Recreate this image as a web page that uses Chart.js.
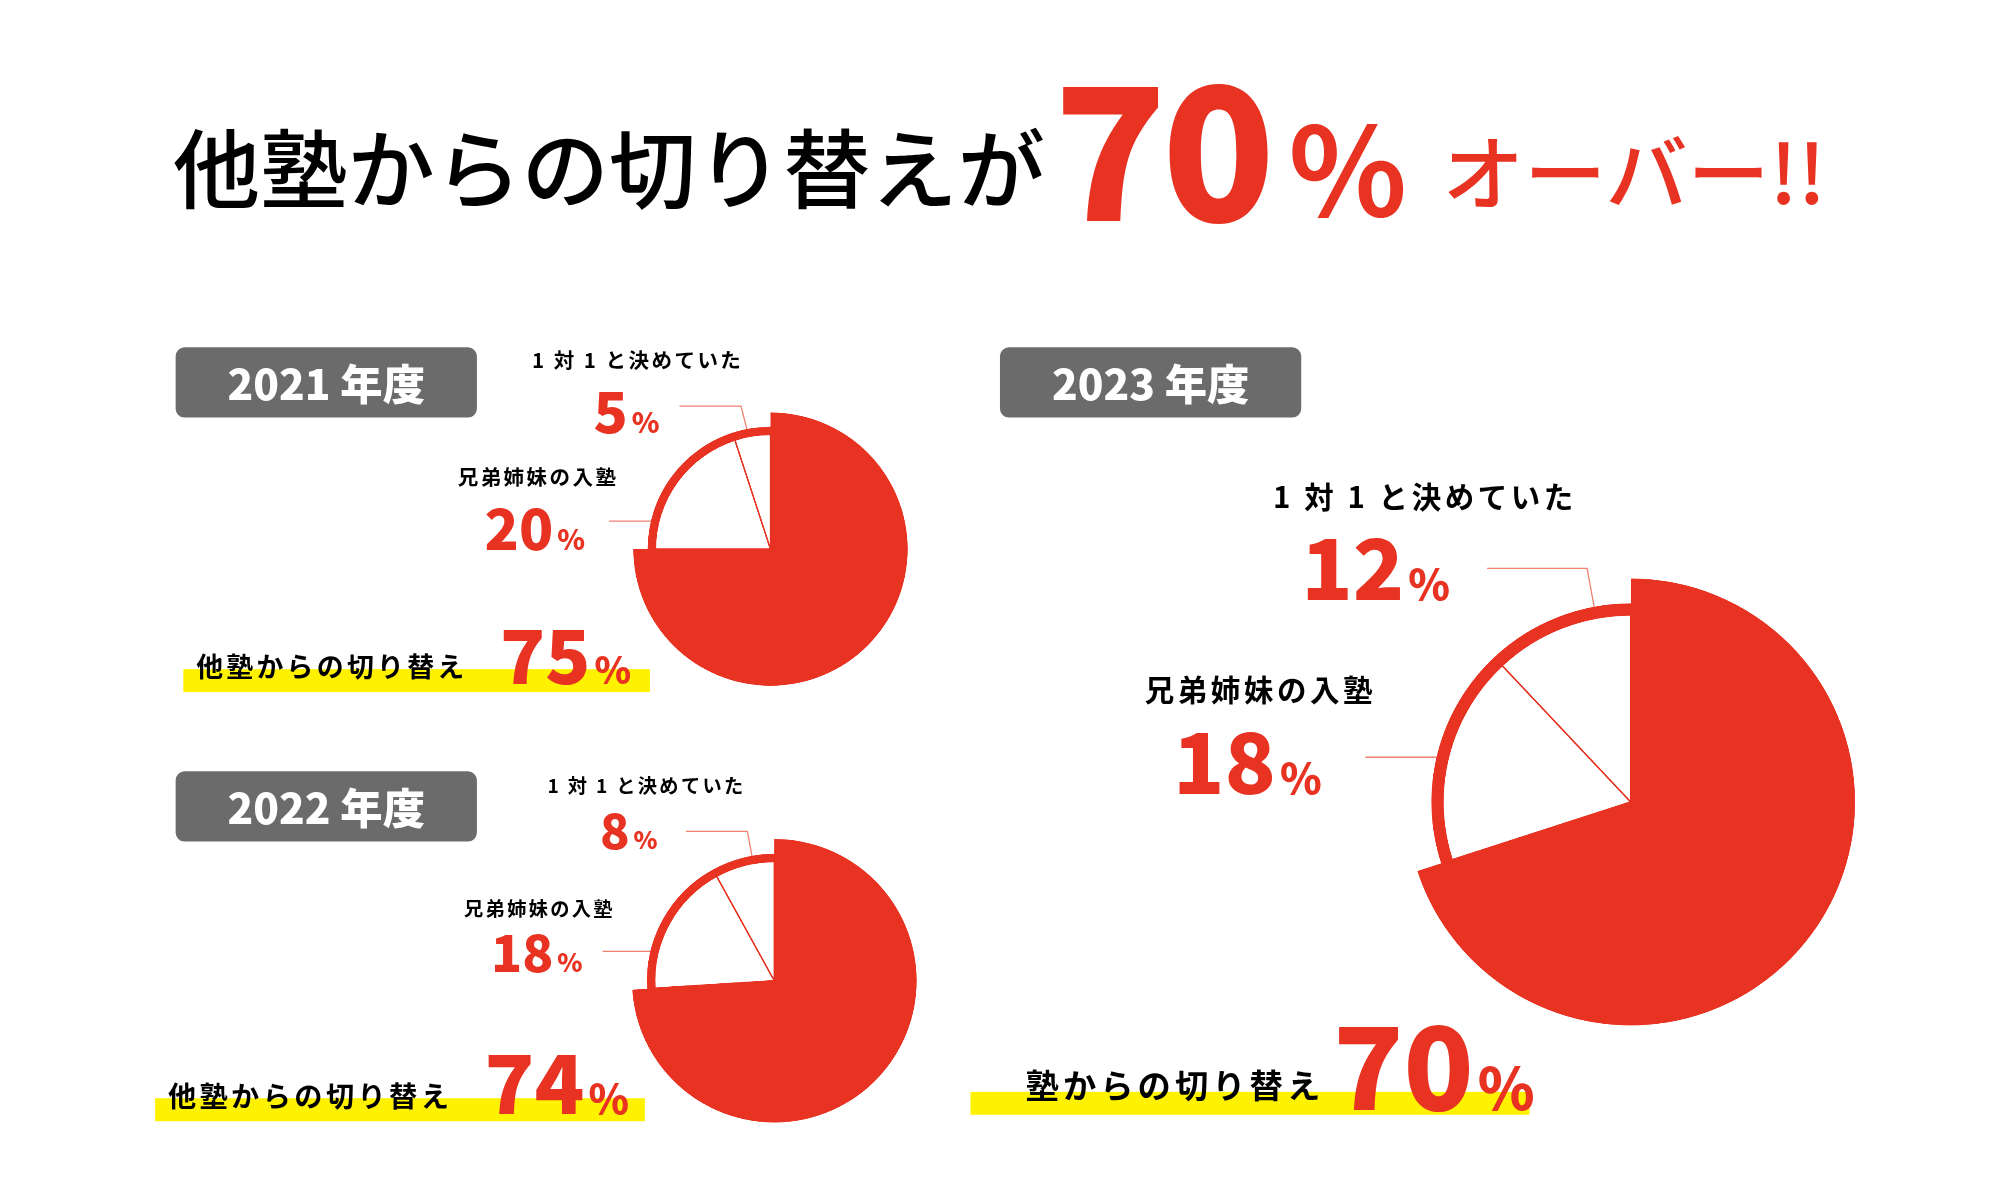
<!DOCTYPE html>
<html><head><meta charset="utf-8">
<script src="https://cdn.jsdelivr.net/npm/chart.js@4"></script>
<style>
body{margin:0;background:#fff;width:2000px;height:1200px;overflow:hidden;font-family:"Noto Sans CJK JP","Noto Sans",sans-serif;}
#wrap{position:absolute;left:0;top:0;width:1560px;height:940px;transform:scale(1.282,1.277);transform-origin:0 0;}
.t{position:absolute;white-space:nowrap;font-weight:700;line-height:1;}
.sp{letter-spacing:0.12em;}
.red{color:#e83323;}
.badge{position:absolute;width:235px;height:55px;background:#6b6b6b;border-radius:7px;color:#fff;font-weight:900;font-size:33px;line-height:55px;text-align:center;font-family:"Noto Sans CJK JP",sans-serif;}
.yel{position:absolute;background:#fff200;height:18px;}
.pct{font-family:"Noto Sans CJK JP",sans-serif;font-weight:900;color:#e83323;}
.pct small{font-size:0.5em;margin-left:3px;}
canvas{position:absolute;}
svg{position:absolute;left:0;top:0;}
</style></head><body>
<div id="wrap">
<div class="t" style="left:135px;top:95px;font-size:68px;font-weight:500;">他塾からの切り替えが</div>
<div class="t pct" style="left:822px;top:38px;font-size:145px;letter-spacing:-4px;">70</div>
<div class="t pct" style="left:1005px;top:80px;font-size:96px;font-weight:700;">%</div>
<div class="t red" style="left:1125px;top:100px;font-size:64px;font-weight:500;">オーバー!!</div>

<div class="badge" style="left:137px;top:272px;">2021 年度</div>
<div class="badge" style="left:137px;top:604px;">2022 年度</div>
<div class="badge" style="left:780px;top:272px;">2023 年度</div>

<div class="yel" style="left:143px;top:524px;width:364px;"></div>
<div class="yel" style="left:121px;top:860px;width:382px;"></div>
<div class="yel" style="left:757px;top:855px;width:436px;"></div>

<div class="t sp" style="left:415px;top:273px;font-size:16px;">1 対 1 と決めていた</div>
<div class="t pct" style="left:463px;top:298px;font-size:44px;">5<small>%</small></div>
<div class="t sp" style="left:357px;top:365px;font-size:16px;">兄弟姉妹の入塾</div>
<div class="t pct" style="left:378px;top:390px;font-size:44px;">20<small>%</small></div>
<div class="t sp" style="left:153px;top:511px;font-size:21px;">他塾からの切り替え</div>
<div class="t pct" style="left:390px;top:482px;font-size:58px;">75<small>%</small></div>

<div class="t sp" style="left:427px;top:607px;font-size:15px;">1 対 1 と決めていた</div>
<div class="t pct" style="left:468px;top:630px;font-size:38px;">8<small>%</small></div>
<div class="t sp" style="left:362px;top:703px;font-size:15px;">兄弟姉妹の入塾</div>
<div class="t pct" style="left:383px;top:724px;font-size:40px;">18<small>%</small></div>
<div class="t sp" style="left:131px;top:846px;font-size:22px;">他塾からの切り替え</div>
<div class="t pct" style="left:378px;top:812px;font-size:64px;">74<small>%</small></div>

<div class="t sp" style="left:993px;top:377px;font-size:23px;">1 対 1 と決めていた</div>
<div class="t pct" style="left:1015px;top:408px;font-size:66px;">12<small>%</small></div>
<div class="t sp" style="left:893px;top:528px;font-size:23px;">兄弟姉妹の入塾</div>
<div class="t pct" style="left:915px;top:560px;font-size:66px;">18<small>%</small></div>
<div class="t sp" style="left:800px;top:836px;font-size:26px;">塾からの切り替え</div>
<div class="t pct" style="left:1040px;top:785px;font-size:90px;">70<small>%</small></div>

<svg width="1560" height="940">
<g stroke="#f08070" stroke-width="1" fill="none">
<polyline points="530,318 578,318 590,365"/><line x1="475" y1="408" x2="540" y2="408"/>
<polyline points="535,651 583,651 592,700"/><line x1="470" y1="745" x2="540" y2="745"/>
<polyline points="1160,445 1238,445 1252,522"/><line x1="1065" y1="593" x2="1172" y2="593"/>
</g></svg>
<canvas id="c2021"></canvas><canvas id="c2022"></canvas><canvas id="c2023"></canvas>
</div>
<script>
// 年度ごとの割合: 他塾からの切り替え / 兄弟姉妹の入塾 / 1対1と決めていた
var categories = ['他塾からの切り替え', '兄弟姉妹の入塾', '1対1と決めていた'];
var values2021 = [75, 20, 5];
var values2022 = [74, 18, 8];
var values2023 = [70, 18, 12];

var RED = '#e83323';

// 白い扇形は半径を小さくし、外周に赤い太線
var ringPlugin = {
    id: 'ring',
    beforeDatasetsDraw: function (chart) {
        var meta = chart.getDatasetMeta(0);
        var r = meta.data[0].outerRadius;
        for (var i = 1; i < meta.data.length; i++) {
            meta.data[i].outerRadius = r * chart.options.plugins.ring.inner;
        }
    },
    afterDatasetsDraw: function (chart) {
        var meta = chart.getDatasetMeta(0);
        var c = chart.ctx;
        var opt = chart.options.plugins.ring;
        for (var i = 1; i < meta.data.length; i++) {
            var a = meta.data[i];
            c.save();
            c.strokeStyle = RED;
            c.lineWidth = opt.width;
            c.beginPath();
            c.arc(a.x, a.y, a.outerRadius - opt.width / 2, a.startAngle, a.endAngle);
            c.stroke();
            c.restore();
        }
    }
};

function makePie(id, values, cx, cy, r, inner, width) {
    var el = document.getElementById(id);
    var size = 2 * r + 6;
    el.style.left = (cx - size / 2) + 'px';
    el.style.top = (cy - size / 2) + 'px';
    el.style.width = size + 'px';
    el.style.height = size + 'px';
    new Chart(el, {
        type: 'pie',
        data: {
            labels: categories,
            datasets: [{
                data: values,
                backgroundColor: [RED, '#ffffff', '#ffffff'],
                borderColor: RED,
                borderWidth: [0, 1.2, 1.2]
            }]
        },
        options: {
            responsive: false,
            animation: false,
            devicePixelRatio: 3,
            radius: r,
            plugins: {
                legend: { display: false },
                tooltip: { enabled: false },
                ring: { inner: inner, width: width }
            }
        },
        plugins: [ringPlugin]
    });
}

makePie('c2021', values2021, 601, 430, 107, 0.89, 6);
makePie('c2022', values2022, 604, 768, 111, 0.89, 6);
makePie('c2023', values2023, 1272, 628, 175, 0.885, 9);
</script>
</body></html>
